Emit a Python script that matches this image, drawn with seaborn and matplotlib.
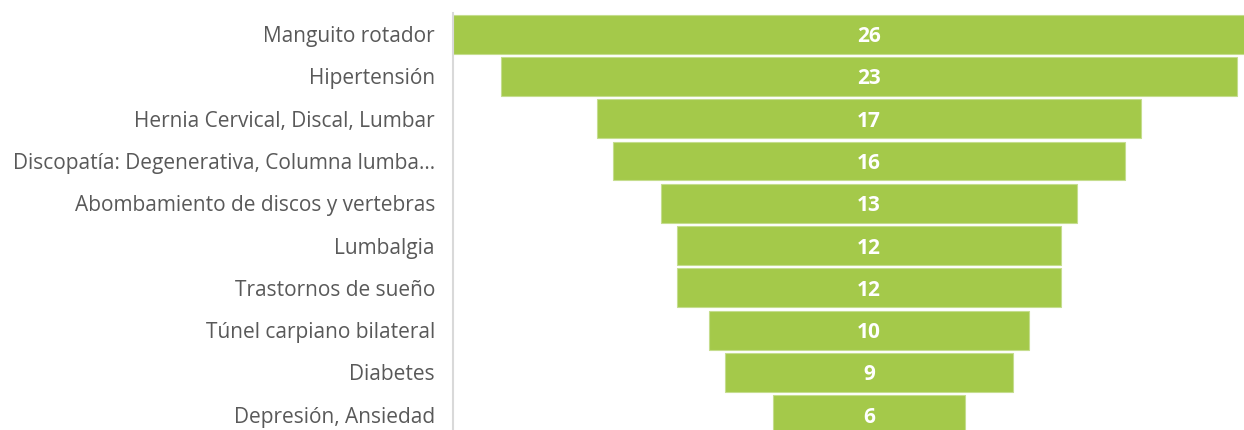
import matplotlib
matplotlib.use("Agg")
import matplotlib.pyplot as plt
import seaborn as sns
import pandas as pd

categories = [
    "Manguito rotador",
    "Hipertensión",
    "Hernia Cervical, Discal, Lumbar",
    "Discopatía: Degenerativa, Columna lumba…",
    "Abombamiento de discos y vertebras",
    "Lumbalgia",
    "Trastornos de sueño",
    "Túnel carpiano bilateral",
    "Diabetes",
    "Depresión, Ansiedad",
]
values = [26, 23, 17, 16, 13, 12, 12, 10, 9, 6]

bar_color = "#A4C94A"
label_color = "#595959"

sns.set_theme(style="white")
plt.rcParams["font.family"] = ["Open Sans", "DejaVu Sans"]

df = pd.DataFrame({"categoria": categories, "valor": values})

fig = plt.figure(figsize=(12.44, 4.30), dpi=100)
ax = fig.add_axes([453 / 1244, 0.0, 1 - 453 / 1244, 1 - 13 / 430])

sns.barplot(data=df, x="valor", y="categoria", orient="h", color=bar_color,
            saturation=1, width=0.92, edgecolor="#C5DD8E", linewidth=0.8, ax=ax)

# centre every bar on zero to form the funnel
for p, v in zip(ax.patches, values):
    p.set_x(-p.get_width() / 2)
    ax.text(0, p.get_y() + p.get_height() / 2, f"{v}", ha="center",
            va="center_baseline", color="white", fontsize=15, fontweight="bold")

ax.set_xlim(-13, 375 / 32)
ax.set_ylim(9.36, -0.50)
ax.set_xlabel("")
ax.set_ylabel("")
ax.set_xticks([])
ax.tick_params(axis="y", length=0, pad=13, labelsize=15, labelcolor=label_color)

for side in ["top", "right", "bottom"]:
    ax.spines[side].set_visible(False)
ax.spines["left"].set_color("#D9D9D9")
ax.spines["left"].set_linewidth(1.5)

fig.savefig("out.png", dpi=100)
